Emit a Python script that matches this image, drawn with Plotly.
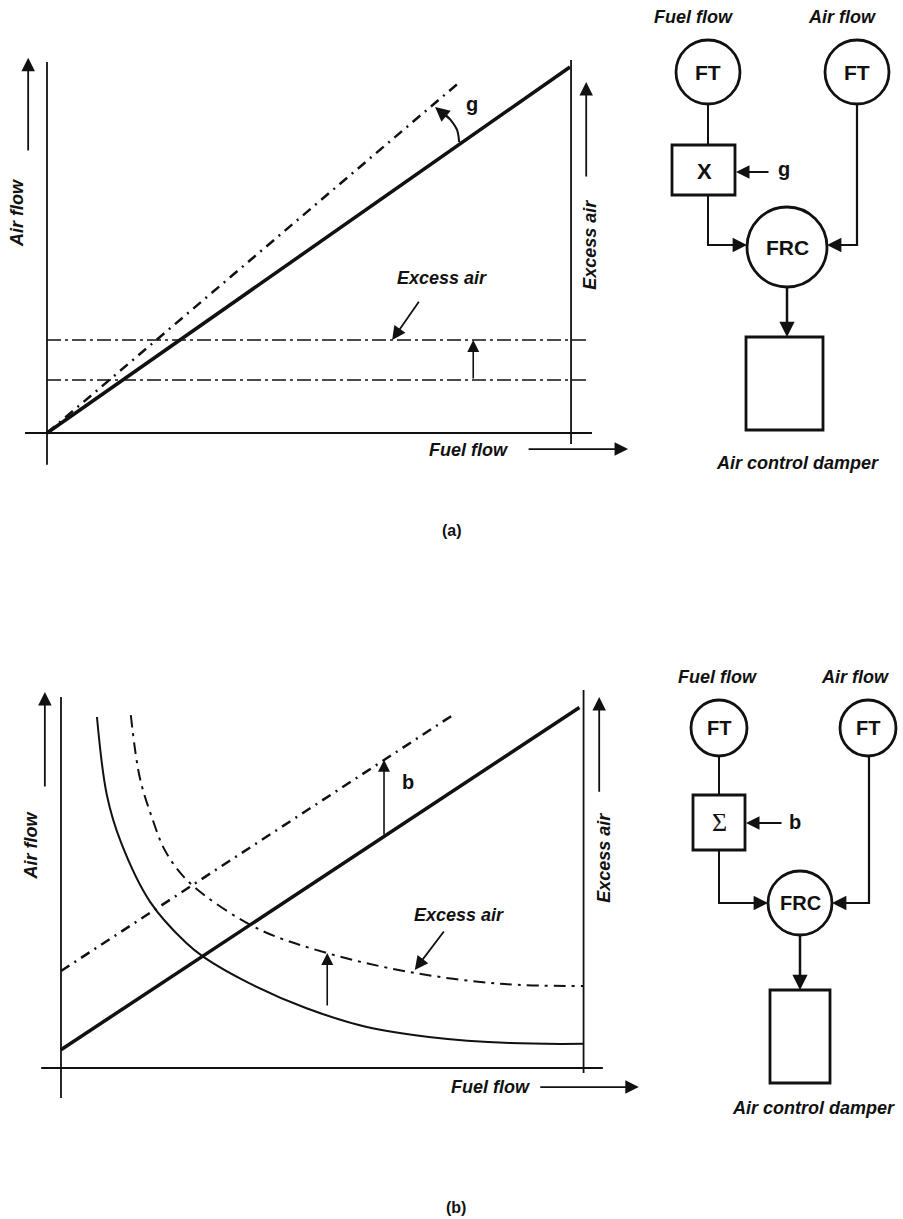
import plotly.graph_objects as go

# ---------------- data : panel (a) ratio (multiplier) control ----------------
fuel_a = [0, 100]            # nominal air/fuel line
air_a = [0, 100]
fuel_a_g = [0, 79]           # line after gain g
air_a_g = [0, 96]
excess_fuel_a = [0, 103.5]   # excess-air reference lines
excess_low_a = [14.5, 14.5]
excess_high_a = [25.4, 25.4]

# ---------------- data : panel (b) bias (summer) control ----------------
fuel_b = [0, 99.5]
air_b = [5, 98.5]
fuel_b_bias = [0, 75.5]
air_b_bias = [26.5, 96.7]
curve_fuel = [6.9, 8.8, 11.5, 17.1, 24.0, 27.4, 36.1, 47.0, 58.7, 70.6, 86.2, 100.3]
curve_air = [95.9, 74.6, 61.7, 45.4, 34.2, 30.3, 23.2, 16.4, 11.2, 8.5, 6.8, 6.6]
curve_ex_fuel = [13.4, 15.1, 17.3, 19.9, 23.4, 28.0, 38.3, 51.1, 67.0, 84.3, 100.3]
curve_ex_air = [96.4, 79.5, 69.1, 59.6, 52.5, 46.7, 37.7, 31.4, 26.2, 23.0, 22.4]

# ---------------- page mapping (pixels) ----------------
W, H = 903, 1219
A_X0, A_SX, A_Y0, A_SY = 47, 5.23, 433, 3.66
B_X0, B_SX, B_Y0, B_SY = 61, 5.21, 1068, 3.66

FONT = "Liberation Sans, Arial, sans-serif"
BLACK = "#111111"
LBL = 18

fig = go.Figure()

REFS = {"a": ("x", "y"), "b": ("x2", "y2"), "d": ("x3", "y3")}


def line(xs, ys, ax, w=2, dash="solid", shape="linear"):
    xa, ya = REFS[ax]
    fig.add_trace(go.Scatter(x=xs, y=ys, xaxis=xa, yaxis=ya, mode="lines",
                             line=dict(color=BLACK, width=w, dash=dash, shape=shape),
                             hoverinfo="skip", showlegend=False))


anns = []


def arrow(x, y, ax_, ay_, ref, w=1.6, size=1.5):
    xr, yr = REFS[ref]
    anns.append(dict(x=x, y=y, ax=ax_, ay=ay_, xref=xr, yref=yr, axref=xr, ayref=yr,
                     text="", showarrow=True, arrowhead=2, arrowsize=size,
                     arrowwidth=w, arrowcolor=BLACK))


def text(s, x, y, ref, size=LBL, angle=0, italic=True, bold=True, family=FONT):
    xr, yr = REFS[ref]
    t = s
    if bold:
        t = "<b>" + t + "</b>"
    if italic:
        t = "<i>" + t + "</i>"
    anns.append(dict(x=x, y=y, xref=xr, yref=yr, text=t, showarrow=False,
                     textangle=angle, font=dict(family=family, size=size, color=BLACK)))


# ======================= panel (a) chart =======================
line([0, 0], [-8.7, 101.4], "a", 1.8)             # y axis
line([-4.2, 104.2], [0, 0], "a", 1.8)             # x axis
line([100.2, 100.2], [-3.0, 101.9], "a", 1.8)     # right axis
line(excess_fuel_a, excess_low_a, "a", 1.5, "14px,4px,3px,4px")
line(excess_fuel_a, excess_high_a, "a", 1.5, "14px,4px,3px,4px")
line(fuel_a_g, air_a_g, "a", 2.5, "10px,6px,2px,6px")
line(fuel_a, air_a, "a", 3.5)
line([78.8, 78.4, 77.2, 75.9], [79.5, 82.8, 85.5, 87.4], "a", 2, shape="spline")
arrow(74.2, 89.1, 77.2, 85.5, "a", 1.8, 1.6)
text("g", 81.3, 90.0, "a", 20, italic=False)
text("Air flow", -5.6, 60, "a", angle=-90)
arrow(-3.6, 102.5, -3.6, 76.8, "a", 1.8, 1.5)
text("Excess air", 103.8, 51.4, "a", angle=-90)
arrow(103.1, 95.9, 103.1, 69.7, "a", 1.8, 1.5)
text("Excess air", 75.5, 42.3, "a")
arrow(66.0, 25.4, 71.3, 36.3, "a", 1.8, 1.5)
arrow(81.5, 25.4, 81.5, 14.5, "a", 1.6, 1.5)
text("Fuel flow", 80.5, -4.6, "a")
arrow(111.1, -4.4, 91.8, -4.4, "a", 1.8, 1.5)

# ======================= panel (b) chart =======================
line([0, 0], [-8.2, 101.4], "b", 1.8)
line([-3.8, 104.0], [0, 0], "b", 1.8)
line([100.3, 100.3], [-1.4, 103.3], "b", 1.8)
line(curve_fuel, curve_air, "b", 2, shape="spline")
line(curve_ex_fuel, curve_ex_air, "b", 2, "12px,6px,3px,6px", shape="spline")
line(fuel_b_bias, air_b_bias, "b", 2.5, "10px,6px,2px,6px")
line(fuel_b, air_b, "b", 3.5)
arrow(62, 84.2, 62, 63.3, "b", 1.6, 1.5)
text("b", 66.6, 78.1, "b", 20, italic=False)
text("Air flow", -5.8, 60.7, "b", angle=-90)
arrow(-3.1, 102.7, -3.1, 76.5, "b", 1.8, 1.5)
text("Excess air", 104.2, 57.4, "b", angle=-90)
arrow(103.3, 101.4, 103.3, 75.1, "b", 1.8, 1.5)
text("Excess air", 76.4, 41.8, "b")
arrow(67.9, 26.8, 73.7, 37.7, "b", 1.8, 1.5)
arrow(51.1, 31.4, 51.1, 16.7, "b", 1.6, 1.5)
text("Fuel flow", 82.5, -5.2, "b")
arrow(110.9, -5.2, 91.7, -5.2, "b", 1.8, 1.5)

# ======================= block diagrams (pixel units) =======================
shapes = []


def circle(cx, cy, r, label, size):
    shapes.append(dict(type="circle", xref="x3", yref="y3", x0=cx - r, x1=cx + r,
                       y0=cy - r, y1=cy + r, line=dict(color=BLACK, width=2.8),
                       fillcolor="white", layer="above"))
    text(label, cx, cy, "d", size, italic=False)


def box(x0, x1, y0, y1, w=2.8):
    shapes.append(dict(type="rect", xref="x3", yref="y3", x0=x0, x1=x1, y0=y0, y1=y1,
                       line=dict(color=BLACK, width=w), fillcolor="white", layer="above"))


# (a)
text("Fuel flow", 693, 17, "d")
text("Air flow", 842, 17, "d")
circle(708, 72, 32, "FT", 21)
circle(857, 72, 32, "FT", 21)
line([708, 708], [104, 145], "d", 2)
box(672, 735, 145, 195)
text("X", 704, 171, "d", 22, italic=False)
arrow(736, 172, 770, 172, "d", 1.8, 1.5)
text("g", 784, 169, "d", 20, italic=False)
line([708, 708, 736], [195, 245, 245], "d", 2)
arrow(747, 245, 730, 245, "d", 1.8, 1.6)
line([857, 857, 838], [104, 245, 245], "d", 2.2)
arrow(827, 245, 845, 245, "d", 1.8, 1.6)
circle(787, 247, 40, "FRC", 21)
line([787, 787], [287, 325], "d", 2.5)
arrow(787, 337, 787, 318, "d", 1.8, 1.7)
box(746, 823, 337, 430)
text("Air control damper", 797, 463, "d")
text("(a)", 452, 530, "d", 16, italic=False)

# (b)
text("Fuel flow", 717, 677, "d")
text("Air flow", 855, 677, "d")
circle(719, 728, 28, "FT", 20)
circle(868, 728, 28, "FT", 20)
line([719, 719], [756, 795], "d", 2)
box(693, 745, 795, 850)
text("Σ", 719, 822, "d", 26, italic=False, bold=False,
     family="Liberation Serif, DejaVu Serif, serif")
arrow(746, 823, 783, 823, "d", 1.8, 1.5)
text("b", 795, 822, "d", 20, italic=False)
line([719, 719, 757], [850, 903, 903], "d", 2)
arrow(768, 903, 750, 903, "d", 1.8, 1.6)
line([869, 869, 843], [756, 903, 903], "d", 2.2)
arrow(832, 903, 850, 903, "d", 1.8, 1.6)
circle(800, 903, 32, "FRC", 20)
line([800, 800], [935, 978], "d", 2.5)
arrow(800, 990, 800, 971, "d", 1.8, 1.7)
box(770, 830, 990, 1083)
text("Air control damper", 813, 1108, "d")
text("(b)", 456, 1207, "d", 16, italic=False)

# ---------------- axes (invisible, pixel-aligned) ----------------
hid = dict(visible=False, showgrid=False, zeroline=False, fixedrange=True)
fig.update_layout(
    width=W, height=H, margin=dict(l=0, r=0, t=0, b=0),
    paper_bgcolor="white", plot_bgcolor="white", showlegend=False,
    xaxis=dict(domain=[0, 1], range=[-A_X0 / A_SX, (W - A_X0) / A_SX], **hid),
    yaxis=dict(domain=[0, 1], range=[(A_Y0 - H) / A_SY, A_Y0 / A_SY], **hid),
    xaxis2=dict(overlaying="x", range=[-B_X0 / B_SX, (W - B_X0) / B_SX], **hid),
    yaxis2=dict(overlaying="y", range=[(B_Y0 - H) / B_SY, B_Y0 / B_SY], **hid),
    xaxis3=dict(overlaying="x", range=[0, W], **hid),
    yaxis3=dict(overlaying="y", range=[H, 0], **hid),
    shapes=shapes, annotations=anns,
)

fig.write_html("out.html", config={"displayModeBar": False, "staticPlot": True},
               post_script="document.body.style.margin='0';document.body.style.overflow='hidden';")
